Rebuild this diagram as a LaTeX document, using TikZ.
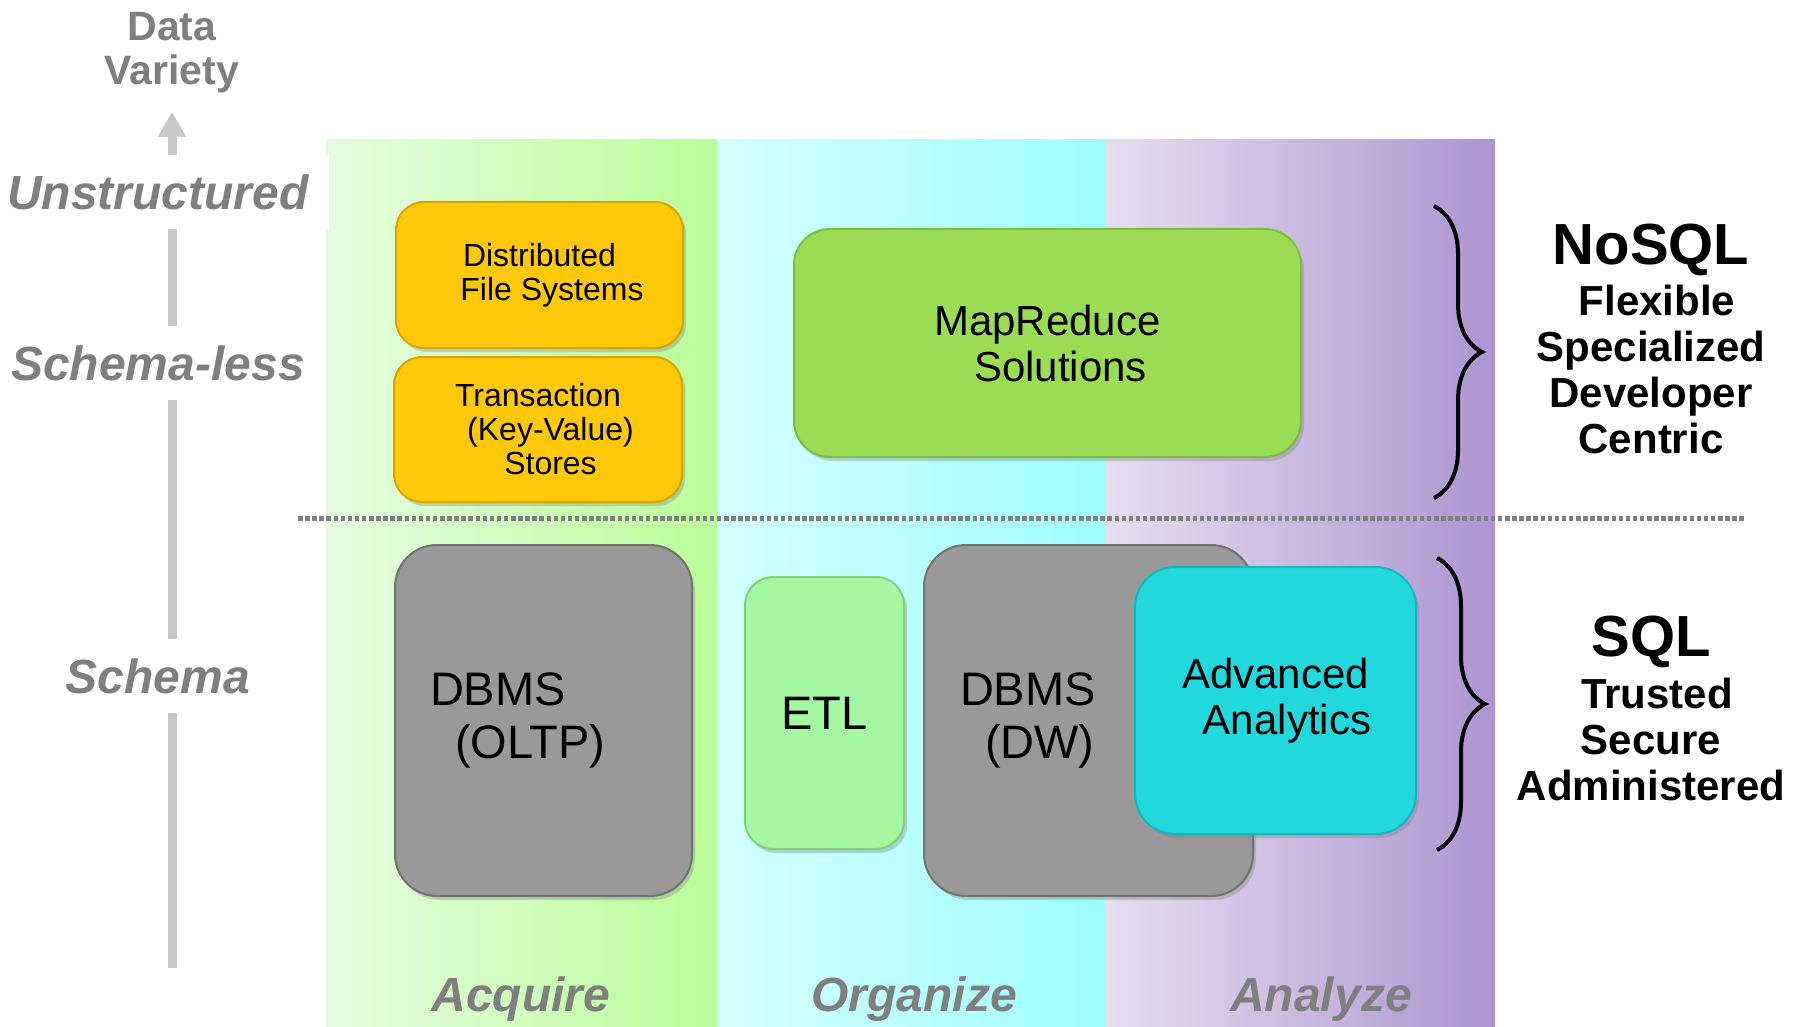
\documentclass[tikz,border=0pt]{standalone}
\usepackage{fontspec}
\setmainfont{Liberation Sans}
\usepackage{tikz}
\usetikzlibrary{arrows.meta,decorations.pathreplacing,shadows}
\definecolor{acquireA}{HTML}{E5FCE0}
\definecolor{acquireB}{HTML}{BAFE99}
\definecolor{organizeA}{HTML}{D4FEFE}
\definecolor{organizeB}{HTML}{9EFEFD}
\definecolor{analyzeA}{HTML}{E4DFEF}
\definecolor{analyzeB}{HTML}{AD95D1}
\definecolor{gold}{HTML}{FFC90A}
\definecolor{goldedge}{HTML}{D9A300}
\definecolor{leaf}{HTML}{9ADD55}
\definecolor{leafedge}{HTML}{7DBE3C}
\definecolor{mint}{HTML}{A6F7A1}
\definecolor{mintedge}{HTML}{7ED27A}
\definecolor{stone}{HTML}{999999}
\definecolor{stoneedge}{HTML}{727272}
\definecolor{aqua}{HTML}{21D8DD}
\definecolor{aquaedge}{HTML}{18B5BB}
\definecolor{labelgray}{HTML}{7F7F7F}
\definecolor{axisgray}{HTML}{C8C8C8}
\newcommand{\fsz}[2]{\fontsize{#1}{#2}\selectfont}

\begin{document}
\begin{tikzpicture}[x=1pt,y=-1pt]
\tikzstyle{phaselabel}=[font=\fsz{48}{50}\bfseries\itshape,text=labelgray]
\tikzstyle{tierlabel}=[font=\fsz{48}{50}\bfseries\itshape,text=labelgray,fill=white,inner xsep=20,inner ysep=19]
\tikzstyle{block}=[line width=2,drop shadow={shadow xshift=3pt,shadow yshift=-4pt,opacity=.35}]
\tikzstyle{curly}=[decorate,decoration={brace,amplitude=48},line width=4]
\tikzstyle{sidehead}=[font=\fsz{58}{60}\bfseries]
\tikzstyle{sidenote}=[font=\fsz{42}{46}\bfseries,align=center]
\useasboundingbox (0,0) rectangle (1796,1027);

% the three phases
\fill[left color=acquireA,right color=acquireB] (326,140) rectangle (718,1027);
\fill[left color=organizeA,right color=organizeB] (718,140) rectangle (1106,1027);
\fill[left color=analyzeA,right color=analyzeB] (1106,140) rectangle (1495,1027);

% variety axis
\coordinate (axisfoot) at (172,968);
\coordinate (axistip) at (172,112);
\draw[axisgray,line width=9,-{Triangle[width=27pt,length=25pt]}] (axisfoot) -- (axistip);
\node[font=\fsz{41}{44}\bfseries,text=labelgray,align=center] (variety) at (172,53) {Data\\Variety};
\node[tierlabel] (unstructured) at (158,192) {Unstructured};
\node[tierlabel] (schemaless) at (158,363) {Schema-less};
\node[tierlabel] (schema) at (158,676) {Schema};

\draw[labelgray,line width=5,dash pattern=on 4.5pt off 2.6pt] (298,518) -- (1744,518);

% NoSQL side
\node[block,fill=gold,draw=goldedge,rounded corners=28,minimum width=287,minimum height=146,
  font=\fsz{32}{34},align=center] (dfs) at (539.5,275) {Distributed\\\hspace*{25pt}File Systems};
\node[block,fill=gold,draw=goldedge,rounded corners=28,minimum width=288,minimum height=145,
  font=\fsz{32}{34},align=center] (kvstore) at (538,429.5) {Transaction\\\hspace*{25pt}(Key-Value)\\\hspace*{25pt}Stores};
\node[block,fill=leaf,draw=leafedge,rounded corners=36,minimum width=507,minimum height=228,
  font=\fsz{42}{46},align=center] (mapreduce) at (1047.5,343) {MapReduce\\\hspace*{26pt}Solutions};

% SQL side
\node[block,fill=stone,draw=stoneedge,rounded corners=42,minimum width=297,minimum height=351,
  font=\fsz{47}{53},align=left,text width=227] (oltp) at (543.5,720.5) {DBMS\\\hspace*{25pt}(OLTP)};
\node[block,fill=mint,draw=mintedge,rounded corners=28,minimum width=159,minimum height=272,
  font=\fsz{47}{53}] (etl) at (824.5,713) {ETL};
\node[block,fill=stone,draw=stoneedge,rounded corners=42,minimum width=329,minimum height=351,
  font=\fsz{47}{53},align=left,text width=257] (dw) at (1088.5,720.5) {DBMS\\\hspace*{25pt}(DW)};
\node[block,fill=aqua,draw=aquaedge,rounded corners=40,minimum width=281,minimum height=267,
  font=\fsz{42}{46},align=center] (analytics) at (1275.5,700.5) {Advanced\\\hspace*{23pt}Analytics};

% braces and their notes
\coordinate (nosqltop) at (1434,206);
\coordinate (nosqlbot) at (1434,498);
\coordinate (sqltop) at (1437,558);
\coordinate (sqlbot) at (1437,850);
\draw[curly] (nosqltop) -- (nosqlbot);
\draw[curly] (sqltop) -- (sqlbot);
\node[sidehead] (nosql) at (1651,250) {NoSQL};
\node[sidenote] (nosqlnote) at (1651,369) {\hspace*{12pt}Flexible\\Specialized\\Developer\\Centric};
\node[sidehead] (sql) at (1651,642) {SQL};
\node[sidenote] (sqlnote) at (1651,739) {\hspace*{12pt}Trusted\\Secure\\Administered};

\node[phaselabel,anchor=base] (acquire) at (521,1011) {Acquire};
\node[phaselabel,anchor=base] (organize) at (914,1011) {Organize};
\node[phaselabel,anchor=base] (analyze) at (1321,1011) {Analyze};
\end{tikzpicture}
\end{document}
